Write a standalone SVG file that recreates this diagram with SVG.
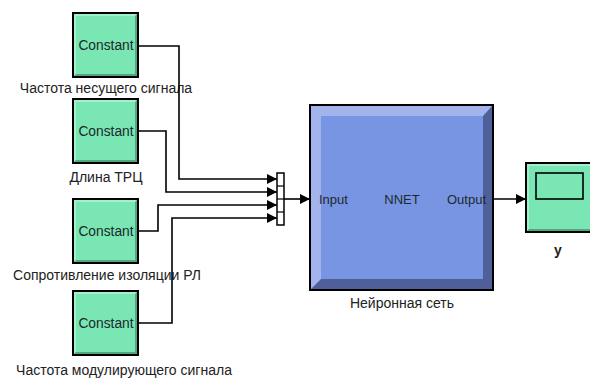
<svg xmlns="http://www.w3.org/2000/svg" width="590" height="378" viewBox="0 0 590 378">
<style>
.lbl{font-family:"Liberation Sans",Arial,sans-serif;font-size:14px;fill:#222;text-anchor:middle}
.ctext{font-family:"Liberation Sans",Arial,sans-serif;font-size:13.8px;fill:#1a2a2a;text-anchor:middle}
.ntext{font-family:"Liberation Sans",Arial,sans-serif;font-size:13px;fill:#1a2a2a;text-anchor:middle}
.wire{fill:none;stroke:#000;stroke-width:1.6}
.cfill{fill:#7ae6b4}
.clight{fill:#a2f0cc}
.cdark{fill:#52a77e}
</style>
<defs>
<marker id="arr" markerWidth="10" markerHeight="10" refX="10" refY="5" orient="auto" markerUnits="userSpaceOnUse">
<path d="M0,0 L10,5 L0,10 Z" fill="#000"/>
</marker>
<g id="constShape">
<rect x="0" y="0" width="65" height="64" class="cdark"/>
<polygon points="0,0 65,0 62,3 3,3 3,61 0,64" class="clight"/>
<rect x="3" y="3" width="59" height="58" class="cfill"/>
<rect x="0" y="0" width="65" height="64" fill="none" stroke="#000" stroke-width="2"/>
</g>
</defs>
<rect width="590" height="378" fill="#fff"/>

<g id="const1">
<use href="#constShape" x="73" y="13"/>
<text class="ctext" x="106" y="50">Constant</text>
<text class="lbl" x="106" y="93">Частота несущего сигнала</text>
</g>
<g id="const2">
<use href="#constShape" x="73" y="99"/>
<text class="ctext" x="106" y="136">Constant</text>
<text class="lbl" x="106" y="182">Длина ТРЦ</text>
</g>
<g id="const3">
<use href="#constShape" x="73" y="199"/>
<text class="ctext" x="106" y="236">Constant</text>
<text class="lbl" x="107" y="280">Сопротивление изоляции РЛ</text>
</g>
<g id="const4">
<use href="#constShape" x="73" y="291"/>
<text class="ctext" x="106" y="328">Constant</text>
<text class="lbl" x="124" y="375">Частота модулирующего сигнала</text>
</g>

<g id="mux">
<rect x="277" y="173" width="7" height="52" fill="#fff" stroke="#000" stroke-width="1.5"/>
<line x1="277" y1="186" x2="284" y2="186" stroke="#000" stroke-width="1.2"/>
<line x1="277" y1="199" x2="284" y2="199" stroke="#000" stroke-width="1.2"/>
<line x1="277" y1="212" x2="284" y2="212" stroke="#000" stroke-width="1.2"/>
</g>

<g id="nnet">
<rect x="310" y="105" width="183" height="185" fill="#4f5f99"/>
<polygon points="310,105 493,105 483,116 321,116 321,279 310,290" fill="#a3b3ec"/>
<rect x="321" y="116" width="162" height="163" fill="#7895e3"/>
<rect x="310" y="105" width="183" height="185" fill="none" stroke="#000" stroke-width="2"/>
<text class="ntext" x="319" y="204" style="text-anchor:start">Input</text>
<text class="ntext" x="402" y="204">NNET</text>
<text class="ntext" x="486" y="204" style="text-anchor:end">Output</text>
<text class="lbl" x="402" y="308">Нейронная сеть</text>
</g>

<g id="scope">
<rect x="526" y="163" width="66" height="69" class="cdark"/>
<polygon points="526,163 592,163 592,166 529,166 529,229 526,232" class="clight"/>
<rect x="529" y="166" width="63" height="63" class="cfill"/>
<rect x="526" y="163" width="66" height="69" fill="none" stroke="#000" stroke-width="2"/>
<rect x="536" y="173" width="47" height="26" fill="#7ae6b4" stroke="#000" stroke-width="1.6"/>
<text x="558" y="255" style="font-family:'Liberation Sans',Arial,sans-serif;font-size:14px;font-weight:bold;fill:#222;text-anchor:middle">y</text>
</g>

<g id="connectors">
<polyline class="wire" points="138,46 179,46 179,179 277,179" marker-end="url(#arr)"/>
<polyline class="wire" points="138,131 166,131 166,192 277,192" marker-end="url(#arr)"/>
<polyline class="wire" points="138,231 158,231 158,205 277,205" marker-end="url(#arr)"/>
<polyline class="wire" points="138,323 172,323 172,218 277,218" marker-end="url(#arr)"/>
<polyline class="wire" points="284,199 310,199" marker-end="url(#arr)"/>
<polyline class="wire" points="493,199 526,199" marker-end="url(#arr)"/>
</g>
</svg>
